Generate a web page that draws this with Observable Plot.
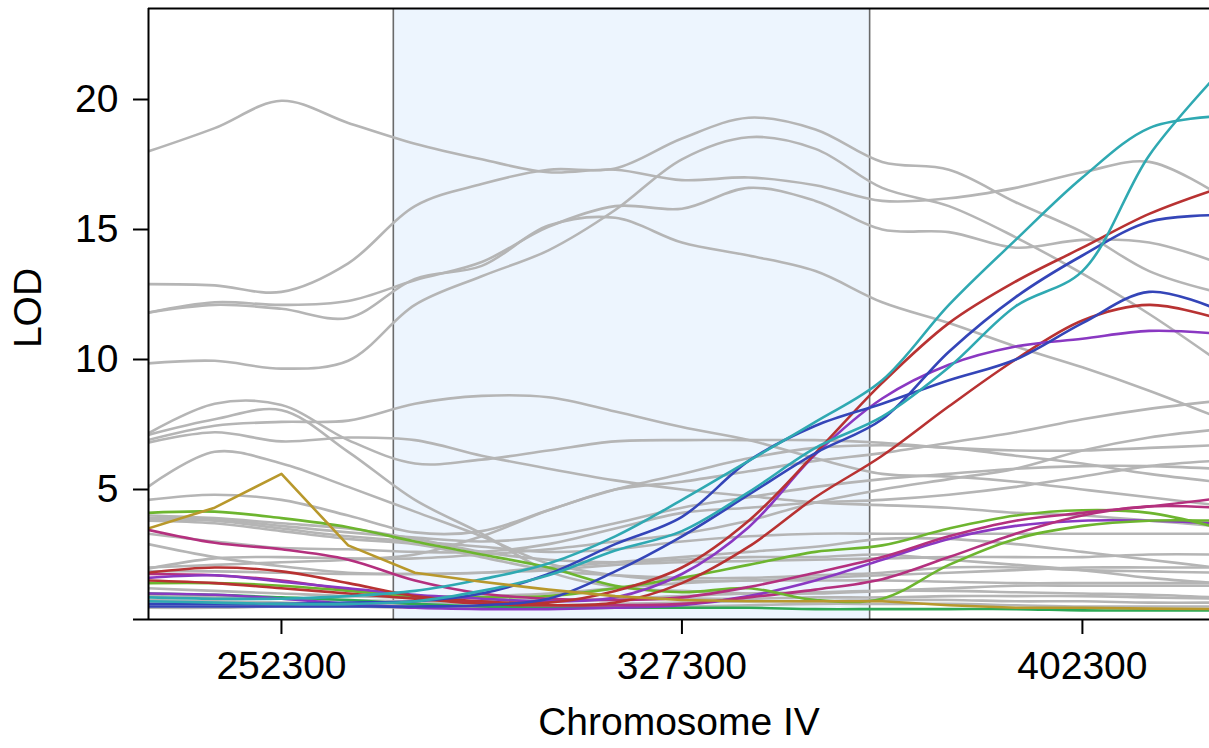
<!DOCTYPE html>
<html>
<head>
<meta charset="utf-8">
<script src="https://cdn.jsdelivr.net/npm/d3@7"></script>
<script src="https://cdn.jsdelivr.net/npm/@observablehq/plot@0.6"></script>
<style>
  body { margin: 0; background: #ffffff; }
  #chart svg { display: block; }
</style>
</head>
<body>
<div id="chart"></div>
<script>
// ---- positions (bp) along Chromosome IV ----
const positions = [227300, 239800, 252300, 264800, 277300, 289800, 302300, 314800, 327300,
                   339800, 352300, 364800, 377300, 389800, 402300, 414800, 427300];
const xDomain = [227400, 426100];
const yDomain = [0, 23.5];
const xTicks = [252300, 327300, 402300];
const yTicks = [0, 5, 10, 15, 20];
const region = [273250, 362450];

// ---- background (gray) LOD profiles ----
const grayA = [18.0, 18.9, 19.95, 19.1, 18.3, 17.7, 17.2, 17.3, 16.9, 17.0, 16.7, 16.1, 16.2, 16.6, 17.2, 17.6, 16.4];
const grayB = [12.9, 12.85, 12.6, 13.7, 15.9, 16.75, 17.3, 17.35, 18.5, 19.3, 18.85, 17.6, 17.3, 16.05, 14.9, 13.4, 12.6];
const grayC = [11.8, 12.2, 12.1, 12.25, 13.05, 13.75, 15.1, 15.9, 15.8, 16.6, 16.1, 15.0, 14.9, 14.3, 14.6, 14.5, 13.75];
const grayD = [11.8, 12.1, 11.95, 11.6, 13.1, 13.6, 15.15, 15.45, 14.5, 14.0, 13.4, 12.2, 11.4, 10.5, 9.7, 8.8, 7.8];
const grayE = [9.85, 9.95, 9.65, 9.95, 12.1, 13.2, 14.2, 15.75, 17.7, 18.55, 18.1, 16.6, 15.9, 14.7, 13.3, 11.75, 10.0];
const grayF = [7.15, 8.3, 8.25, 6.9, 6.0, 6.15, 6.5, 6.85, 6.9, 6.9, 6.9, 6.8, 6.6, 6.5, 6.5, 6.6, 6.7];
const grayG = [7.1, 7.7, 8.05, 6.45, 4.6, 3.3, 1.85, 1.25, 1.1, 1.0, 1.0, 1.1, 1.2, 1.3, 1.3, 1.3, 1.3];
const grayH = [6.9, 7.45, 7.6, 7.65, 8.3, 8.6, 8.55, 8.0, 7.4, 6.9, 6.2, 5.6, 5.5, 5.3, 5.0, 4.7, 4.4];
const grayI = [6.8, 7.2, 6.85, 7.0, 6.9, 6.3, 5.8, 5.35, 5.0, 4.75, 4.5, 4.4, 4.3, 4.1, 4.0, 3.8, 3.6];
const grayJ = [5.1, 6.45, 6.0, 5.1, 4.15, 3.2, 2.15, 1.7, 1.5, 1.5, 1.6, 1.7, 1.8, 1.9, 2.0, 2.0, 2.0];
const grayK = [4.6, 4.8, 4.6, 4.0, 3.35, 3.4, 4.2, 5.0, 5.3, 5.7, 6.1, 6.4, 6.8, 7.2, 7.7, 8.1, 8.4];
const grayL = [3.9, 3.85, 3.6, 3.35, 3.15, 3.0, 3.2, 3.7, 4.3, 4.7, 5.1, 5.4, 5.6, 5.8, 5.9, 5.9, 5.8];
const grayM = [3.85, 3.8, 3.5, 3.2, 3.0, 2.8, 2.6, 2.7, 3.0, 3.2, 3.3, 3.3, 3.3, 3.3, 3.3, 3.3, 3.3];
const grayN = [3.3, 3.0, 2.75, 2.7, 2.6, 2.6, 2.9, 3.5, 4.1, 4.3, 4.5, 4.6, 4.8, 5.1, 5.5, 5.9, 6.1];
const grayO = [2.9, 2.4, 2.05, 1.8, 1.75, 1.8, 2.0, 2.2, 2.4, 2.6, 2.8, 3.1, 3.1, 2.9, 2.6, 2.3, 2.0];
const grayP = [1.95, 2.35, 2.4, 2.35, 2.35, 2.5, 2.7, 3.0, 3.3, 3.8, 4.5, 5.0, 5.4, 5.8, 6.5, 7.0, 7.3];
const grayQ = [1.85, 1.85, 1.8, 1.75, 1.75, 1.8, 1.9, 2.1, 2.2, 2.25, 2.3, 2.35, 2.4, 2.4, 2.4, 2.5, 2.5];
const grayR = [3.8, 3.7, 3.4, 3.1, 2.9, 2.4, 1.9, 1.7, 1.6, 1.6, 1.7, 1.8, 2.0, 2.0, 1.9, 1.85, 1.8];
const grayS = [4.0, 3.9, 3.7, 3.5, 3.1, 2.6, 2.3, 2.2, 2.3, 2.4, 2.4, 2.5, 2.3, 2.1, 1.9, 1.6, 1.4];
const grayT = [2.0, 2.1, 2.2, 2.3, 2.5, 3.2, 4.2, 5.0, 5.6, 6.2, 6.6, 6.7, 6.6, 6.3, 6.0, 5.6, 5.3];
const grayU = [0.9, 0.85, 0.8, 0.75, 0.7, 0.7, 0.75, 0.8, 0.9, 1.0, 1.05, 1.1, 1.1, 1.05, 1.0, 0.95, 0.85];
const grayV = [0.6, 0.6, 0.55, 0.55, 0.5, 0.5, 0.55, 0.6, 0.65, 0.7, 0.7, 0.75, 0.75, 0.7, 0.7, 0.65, 0.65];
const grayW = [0.45, 0.45, 0.5, 0.5, 0.45, 0.45, 0.45, 0.5, 0.5, 0.55, 0.6, 0.6, 0.6, 0.55, 0.5, 0.5, 0.5];
const grayX = [0.75, 0.7, 0.65, 0.6, 0.6, 0.65, 0.7, 0.75, 0.8, 0.8, 0.85, 0.85, 0.9, 0.9, 0.9, 0.85, 0.8];
const grayY = [1.2, 1.1, 1.0, 0.9, 0.85, 0.9, 1.0, 1.2, 1.4, 1.5, 1.5, 1.5, 1.45, 1.4, 1.4, 1.4, 1.4];

// ---- highlighted (coloured) LOD profiles ----
const teal1    = [0.85, 0.8, 0.8, 0.9, 1.1, 1.55, 2.15, 3.2, 4.6, 6.1, 7.6, 9.2, 12.1, 14.6, 17.0, 18.9, 19.35];
const teal2    = [0.7, 0.65, 0.6, 0.6, 0.7, 1.1, 1.7, 2.65, 3.4, 4.9, 6.6, 7.8, 9.7, 12.05, 13.4, 17.85, 20.9];
const blueA    = [0.6, 0.6, 0.6, 0.65, 0.7, 1.0, 1.75, 2.9, 3.95, 6.1, 7.45, 8.3, 9.2, 10.0, 11.4, 12.6, 11.95];
const blueB    = [0.5, 0.5, 0.5, 0.5, 0.5, 0.55, 0.8, 1.85, 3.2, 4.8, 6.4, 7.7, 10.3, 12.4, 14.0, 15.3, 15.55];
const red1     = [1.8, 2.0, 1.85, 1.4, 0.9, 0.7, 0.65, 1.1, 2.0, 3.8, 6.4, 9.1, 11.4, 13.0, 14.3, 15.6, 16.55];
const red2     = [1.5, 1.4, 1.2, 1.0, 0.8, 0.6, 0.55, 0.65, 1.4, 2.8, 4.7, 6.3, 8.2, 10.0, 11.5, 12.1, 11.6];
const purple1  = [1.6, 1.7, 1.45, 1.2, 0.95, 0.8, 0.7, 0.85, 1.75, 3.55, 6.35, 8.5, 9.8, 10.5, 10.8, 11.1, 11.0];
const purple2  = [1.0, 0.95, 0.8, 0.6, 0.45, 0.4, 0.4, 0.45, 0.55, 0.9, 1.5, 2.3, 3.1, 3.6, 3.8, 3.8, 3.7];
const magenta1 = [3.45, 2.95, 2.7, 2.3, 1.5, 1.0, 0.8, 0.75, 0.85, 1.25, 1.8, 2.4, 3.2, 3.8, 4.1, 4.35, 4.65];
const magenta2 = [1.75, 1.7, 1.5, 1.15, 0.85, 0.65, 0.55, 0.55, 0.6, 0.85, 1.15, 1.55, 2.4, 3.3, 4.0, 4.35, 4.3];
const green1   = [4.1, 4.15, 3.9, 3.55, 3.0, 2.5, 2.0, 1.3, 1.05, 1.2, 0.75, 0.8, 2.1, 3.1, 3.6, 3.8, 3.8];
const green2   = [1.4, 1.4, 1.3, 1.1, 0.9, 0.85, 0.9, 1.2, 1.6, 2.1, 2.6, 2.85, 3.5, 4.0, 4.2, 4.1, 3.55];
const dgreen   = [1.0, 0.95, 0.85, 0.75, 0.6, 0.5, 0.45, 0.45, 0.45, 0.45, 0.4, 0.4, 0.4, 0.4, 0.35, 0.35, 0.35];
const gold     = [3.5, 4.3, 5.6, 2.85, 1.8, 1.45, 1.15, 0.9, 0.75, 0.7, 0.7, 0.7, 0.55, 0.45, 0.45, 0.42, 0.4];

const graySeries = {grayA, grayB, grayC, grayD, grayE, grayF, grayG, grayH, grayI, grayJ, grayK, grayL, grayM,
  grayN, grayO, grayP, grayQ, grayR, grayS, grayT, grayU, grayV, grayW, grayX, grayY};
const colorSeries = [
  ["dgreen", dgreen, "#2ea955"],
  ["purple2", purple2, "#8a38c2"],
  ["magenta2", magenta2, "#b4307e"],
  ["green2", green2, "#6db52f"],
  ["green1", green1, "#6db52f"],
  ["magenta1", magenta1, "#b4307e"],
  ["gold", gold, "#b8982c"],
  ["red2", red2, "#b83232"],
  ["purple1", purple1, "#8a38c2"],
  ["red1", red1, "#b83232"],
  ["blueB", blueB, "#3445b8"],
  ["blueA", blueA, "#3445b8"],
  ["teal2", teal2, "#2fa9b2"],
  ["teal1", teal1, "#2fa9b2"]
];

const grayRows = [];
for (const [name, vals] of Object.entries(graySeries)) {
  vals.forEach((v, i) => grayRows.push({pos: positions[i], lod: v, series: name}));
}
const colorRows = [];
for (const [name, vals, col] of colorSeries) {
  vals.forEach((v, i) => colorRows.push({pos: positions[i], lod: v, series: name, color: col}));
}
const goldRows = colorRows.filter(d => d.series === "gold");
const otherColorRows = colorRows.filter(d => d.series !== "gold");

const font = "'Liberation Sans', Arial, Helvetica, sans-serif";
const lw = 2.6;

const chart = Plot.plot({
  width: 1209,
  height: 748,
  marginLeft: 148,
  marginRight: 0,
  marginTop: 8,
  marginBottom: 129,
  style: {fontFamily: font, fontSize: "39px", background: "#ffffff", color: "#000"},
  x: {domain: xDomain},
  y: {domain: yDomain},
  color: {type: "identity"},
  marks: [
    Plot.rect([region], {x1: d => d[0], x2: d => d[1], fill: "#edf5fe"}),
    Plot.ruleX(region, {stroke: "#6a6a6a", strokeWidth: 1.6}),
    Plot.line(grayRows, {x: "pos", y: "lod", z: "series", stroke: "#b5b5b5", strokeWidth: lw, curve: "catmull-rom", clip: true}),
    Plot.line(otherColorRows, {x: "pos", y: "lod", z: "series", stroke: "color", strokeWidth: lw, curve: "catmull-rom", clip: true}),
    Plot.line(goldRows, {x: "pos", y: "lod", z: "series", stroke: "color", strokeWidth: lw, curve: "linear", clip: true}),
    Plot.ruleY([yDomain[0]], {stroke: "#000", strokeWidth: 2}),
    Plot.ruleY([yDomain[1]], {stroke: "#000", strokeWidth: 2}),
    Plot.ruleX([xDomain[0]], {stroke: "#000", strokeWidth: 2}),
    Plot.axisY(yTicks, {tickSize: 15, tickPadding: 15, strokeWidth: 2, fontSize: 39, fontFamily: font,
      tickFormat: d => d === 0 ? "" : String(d), label: null}),
    Plot.axisX(xTicks, {tickSize: 15, tickPadding: 17, strokeWidth: 2, fontSize: 39, fontFamily: font,
      tickFormat: d => String(d), label: null}),
    Plot.text(["LOD"], {frameAnchor: "left", textAnchor: "middle", lineAnchor: "middle", dx: -120, dy: -6,
      rotate: -90, fontSize: 39, fontFamily: font, fill: "#000"}),
    Plot.text(["Chromosome IV"], {frameAnchor: "bottom", textAnchor: "middle", lineAnchor: "middle", dy: 103,
      fontSize: 39, fontFamily: font, fill: "#000"})
  ]
});
document.getElementById("chart").appendChild(chart);
</script>
</body>
</html>
